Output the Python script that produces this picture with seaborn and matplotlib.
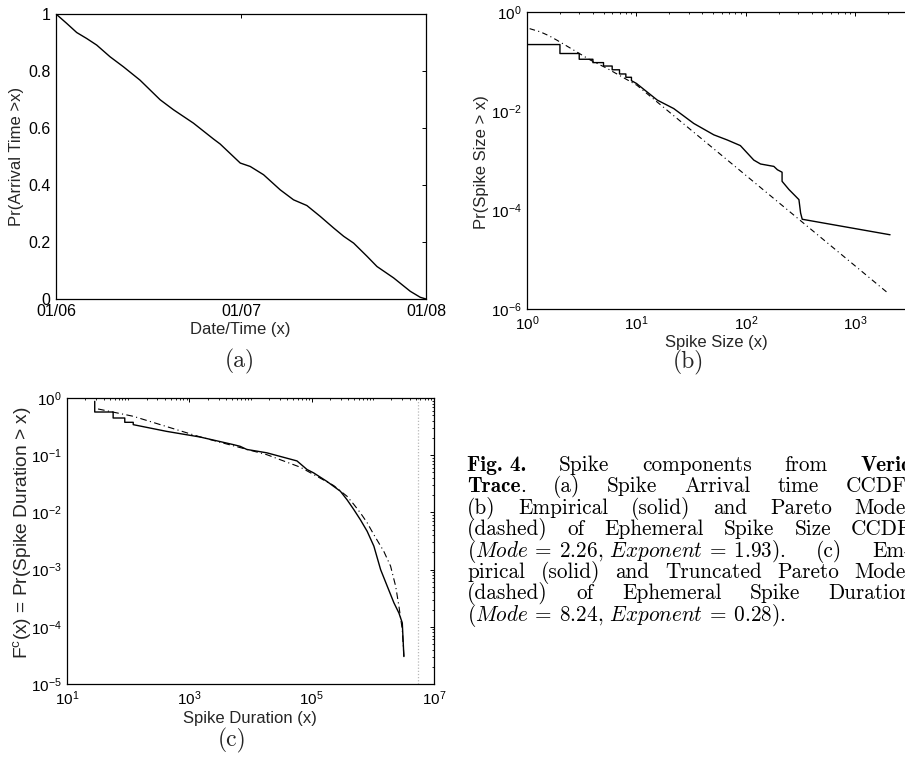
import matplotlib
matplotlib.use("Agg")
import numpy as np
import pandas as pd
import seaborn as sns
import matplotlib.pyplot as plt
from matplotlib.ticker import FixedLocator, LogLocator, NullLocator, NullFormatter, FixedFormatter, LogFormatterSciNotation
from matplotlib.transforms import IdentityTransform

# ---------------- data ----------------
# (a) spike arrival time CCDF (x in days since 01/06)
arrival_days = [0, 0.058, 0.112, 0.166, 0.220, 0.292, 0.364, 0.454, 0.563, 0.635, 0.743,
                0.852, 0.887, 0.996, 1.05, 1.122, 1.212, 1.284, 1.356, 1.428, 1.501, 1.555,
                1.609, 1.681, 1.735, 1.825, 1.915, 1.969, 2.0]
arrival_ccdf = [1.0, 0.967, 0.935, 0.914, 0.891, 0.850, 0.815, 0.768, 0.699, 0.664, 0.617,
                0.561, 0.544, 0.477, 0.465, 0.436, 0.383, 0.348, 0.328, 0.290, 0.249, 0.220,
                0.196, 0.150, 0.114, 0.074, 0.027, 0.006, 0.0]
date_ticks = [0, 1, 2]
date_labels = ["01/06", "01/07", "01/08"]

# (b) spike size CCDF: empirical and Pareto model
size_x = [1, 2, 2, 3, 3, 4, 4, 5, 5, 6, 6, 7, 7, 8, 8, 9, 9, 10, 15.5, 21.9, 27.1, 33.4,
          50.9, 67.5, 89, 118, 136, 180, 194, 214, 214, 247, 305, 316, 327, 2075]
size_ccdf = [0.22, 0.22, 0.145, 0.145, 0.111, 0.111, 0.095, 0.095, 0.081, 0.081, 0.068,
             0.068, 0.056, 0.056, 0.048, 0.048, 0.041, 0.036, 0.0166, 0.0112, 0.0079,
             0.0056, 0.0033, 0.0026, 0.0020, 0.00102, 0.00085, 0.00076, 0.00065, 0.00058,
             0.00038, 0.00026, 0.000162, 0.000087, 0.000065, 0.0000316]
pareto_x = [1.057, 1.32, 1.59, 1.88, 2.67, 3.79, 5.40, 10.1, 100, 1963]
pareto_ccdf = [0.461, 0.398, 0.331, 0.269, 0.170, 0.107, 0.0724, 0.0331, 0.0005, 0.00000214]

# (c) spike duration CCDF: empirical and truncated Pareto model
dur_x = [28.4, 28.4, 56.8, 56.8, 88, 88, 121, 121, 425, 1496, 5260, 6760, 8710, 18530,
         57540, 83950, 107900, 178200, 295100, 379300, 488700, 628100, 807200, 1.04e6,
         1.34e6, 1.72e6, 2.21e6, 2.67e6, 3.03e6, 3.22e6]
dur_ccdf = [0.875, 0.569, 0.569, 0.447, 0.447, 0.376, 0.376, 0.342, 0.261, 0.208, 0.153,
            0.143, 0.126, 0.110, 0.0794, 0.0562, 0.049, 0.0347, 0.0234, 0.0166, 0.0112,
            0.0074, 0.00468, 0.00257, 0.001, 0.000513, 0.000263, 0.000174, 0.000117,
            0.0000302]
trunc_x = [32.2, 121, 1496, 18530, 65160, 229000, 379300, 488700, 628100, 807200, 1.04e6,
           1.51e6, 1.95e6, 2.36e6, 2.67e6, 3.03e6, 3.22e6]
trunc_ccdf = [0.643, 0.479, 0.209, 0.102, 0.0617, 0.0295, 0.0191, 0.0138, 0.00977, 0.0066,
              0.00407, 0.00209, 0.00115, 0.000513, 0.000229, 0.0000891, 0.0000302]
dur_limit = 5.4e6

# caption (**...** = bold)
caption_lines = [
    ["**Fig. 4.**", "Spike", "components", "from", "**Verio**"],
    ["**Trace**.", "(a)", "Spike", "Arrival", "time", "CCDF."],
    ["(b)", "Empirical", "(solid)", "and", "Pareto", "Model"],
    ["(dashed)", "of", "Ephemeral", "Spike", "Size", "CCDF"],
    [r"$(Mode\:=\:2.26,\,Exponent\:=\:1.93)$.", "(c)", "Em-"],
    ["pirical", "(solid)", "and", "Truncated", "Pareto", "Model"],
    ["(dashed)", "of", "Ephemeral", "Spike", "Duration"],
    [r"$(Mode\:=\:8.24,\,Exponent\:=\:0.28)$."],
]

# ---------------- style ----------------
sns.set_theme(style="white")
plt.rcParams["font.family"] = ["Liberation Sans", "DejaVu Sans"]
plt.rcParams["mathtext.fontset"] = "custom"
plt.rcParams["mathtext.rm"] = "Liberation Sans"
plt.rcParams["mathtext.it"] = "Liberation Sans:italic"
plt.rcParams["mathtext.bf"] = "Liberation Sans:bold"
plt.rcParams["axes.edgecolor"] = "black"
plt.rcParams["axes.linewidth"] = 0.9

W, H = 905, 757
fig = plt.figure(figsize=(W / 100, H / 100), dpi=100)
fig.patch.set_facecolor("white")

LABEL_FS = 12
TICK_FS_LIN = 11.5
TICK_FS_LOG = 11


def add_axes_px(left, right, top, bottom):
    return fig.add_axes([left / W, (H - bottom) / H, (right - left) / W, (bottom - top) / H])


def style_ticks(ax, fs):
    ax.tick_params(which="both", direction="in", top=True, right=True, colors="black",
                   labelsize=fs, pad=4)
    ax.tick_params(which="major", length=3.2, width=0.7)
    ax.tick_params(which="minor", length=1.7, width=0.6)
    for s in ax.spines.values():
        s.set_color("black")
        s.set_linewidth(0.9)


def line(ax, x, y, **kw):
    sns.lineplot(x=x, y=y, ax=ax, estimator=None, sort=False, legend=False, **kw)


# ---------------- panel (a) ----------------
axa = add_axes_px(56, 426, 14, 299)
line(axa, arrival_days, arrival_ccdf, color="black", linewidth=1.0)
axa.set_xlim(0, 2)
axa.set_ylim(0, 1)
axa.xaxis.set_major_locator(FixedLocator(date_ticks))
axa.xaxis.set_major_formatter(FixedFormatter(date_labels))
axa.yaxis.set_major_locator(FixedLocator([0, 0.2, 0.4, 0.6, 0.8, 1.0]))
axa.yaxis.set_major_formatter(FixedFormatter(["0", "0.2", "0.4", "0.6", "0.8", "1"]))
style_ticks(axa, TICK_FS_LIN)
axa.tick_params(axis="x", pad=3.5)
axa.set_xlabel("Date/Time (x)", fontsize=LABEL_FS)
axa.set_ylabel("Pr(Arrival Time >x)", fontsize=LABEL_FS)
axa.xaxis.set_label_coords(0.497, -0.080)
axa.yaxis.set_label_coords(-0.0865, 0.499)

# ---------------- panel (b) ----------------
axb = add_axes_px(527, 909, 12, 309)
line(axb, size_x, size_ccdf, color="black", linewidth=1.0)
line(axb, pareto_x, pareto_ccdf, color="black", linewidth=0.8, linestyle=(0, (5, 3, 1, 3)))
axb.set_xscale("log")
axb.set_yscale("log")
axb.set_xlim(1, 10 ** 3.49)
axb.set_ylim(1e-6, 1)
axb.xaxis.set_major_locator(FixedLocator([1, 10, 100, 1000]))
axb.xaxis.set_major_formatter(LogFormatterSciNotation())
axb.xaxis.set_minor_locator(LogLocator(base=10, subs=np.arange(2, 10), numticks=50))
axb.xaxis.set_minor_formatter(NullFormatter())
axb.yaxis.set_major_locator(FixedLocator([1e-6, 1e-4, 1e-2, 1]))
axb.yaxis.set_major_formatter(LogFormatterSciNotation())
axb.yaxis.set_minor_locator(NullLocator())
style_ticks(axb, TICK_FS_LOG)
axb.set_xlabel("Spike Size (x)", fontsize=LABEL_FS)
axb.set_ylabel("Pr(Spike Size > x)", fontsize=LABEL_FS)
axb.xaxis.set_label_coords(0.4966, -0.089)
axb.yaxis.set_label_coords(-0.0995, 0.495)

# ---------------- panel (c) ----------------
axc = add_axes_px(67, 434, 398, 684)
line(axc, dur_x, dur_ccdf, color="black", linewidth=1.0)
line(axc, trunc_x, trunc_ccdf, color="black", linewidth=0.8, linestyle=(0, (6, 3, 1, 3)))
axc.axvline(dur_limit, color="0.72", linewidth=0.9, linestyle=(0, (1, 1.5)))
axc.set_xscale("log")
axc.set_yscale("log")
axc.set_xlim(10, 1e7)
axc.set_ylim(1e-5, 1)
axc.xaxis.set_major_locator(FixedLocator([1e1, 1e3, 1e5, 1e7]))
axc.xaxis.set_major_formatter(LogFormatterSciNotation())
axc.xaxis.set_minor_locator(LogLocator(base=10, subs=np.arange(1, 10), numticks=50))
axc.xaxis.set_minor_formatter(NullFormatter())
axc.yaxis.set_major_locator(FixedLocator([1e-5, 1e-4, 1e-3, 1e-2, 1e-1, 1]))
axc.yaxis.set_major_formatter(LogFormatterSciNotation())
axc.yaxis.set_minor_locator(LogLocator(base=10, subs=np.arange(2, 10), numticks=50))
axc.yaxis.set_minor_formatter(NullFormatter())
style_ticks(axc, TICK_FS_LOG)
axc.set_xlabel("Spike Duration (x)", fontsize=LABEL_FS)
axc.set_ylabel(r"F$^{\mathrm{c}}$(x) = Pr(Spike Duration > x)", fontsize=13.8)
axc.xaxis.set_label_coords(0.4986, -0.095)
axc.yaxis.set_label_coords(-0.0926, 0.528)

# ---------------- panel letters ----------------
for lab, (px, py) in {"(a)": (240, 361), "(b)": (688, 362), "(c)": (232, 740)}.items():
    fig.text(px / W, 1 - py / H, lab, family="cmr10", fontsize=17, ha="center",
             va="center")

# ---------------- caption (justified) ----------------
renderer = fig.canvas.get_renderer()
cap_left, cap_right = 467, 912
cap_size = 15.3
base0, lead = 471, 21.4
space_nat = 0.333 * cap_size * 100 / 72


def token_parts(tok):
    parts = []
    segs = tok.split("**")
    for k, s in enumerate(segs):
        if s:
            parts.append((s, "cmb10" if k % 2 == 1 else "cmr10"))
    return parts


for i, toks in enumerate(caption_lines):
    ybase = H - (base0 + lead * i)
    groups = []
    for t in toks:
        objs = []
        for s, fam in token_parts(t):
            o = fig.text(0, ybase, s, transform=IdentityTransform(), family=fam,
                         math_fontfamily="cm", fontsize=cap_size, ha="left",
                         va="baseline", color="black")
            objs.append((o, o.get_window_extent(renderer).width))
        groups.append(objs)
    widths = [sum(w for _, w in g) for g in groups]
    last = i == len(caption_lines) - 1
    if len(groups) > 1 and not last:
        gap = (cap_right - cap_left - sum(widths)) / (len(groups) - 1)
    else:
        gap = space_nat
    x = cap_left
    for g, wsum in zip(groups, widths):
        xx = x
        for o, w in g:
            o.set_x(xx)
            xx += w
        x += wsum + gap

fig.savefig("out.png", dpi=100, facecolor="white")
